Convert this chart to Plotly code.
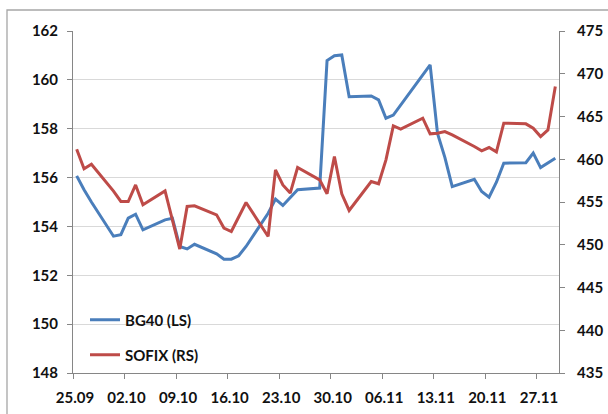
import plotly.graph_objects as go

# Trading days (dd.mm.2013)
dates = [
    "2013-09-25", "2013-09-26", "2013-09-27", "2013-09-30", "2013-10-01",
    "2013-10-02", "2013-10-03", "2013-10-04", "2013-10-07", "2013-10-08",
    "2013-10-09", "2013-10-10", "2013-10-11", "2013-10-14", "2013-10-15",
    "2013-10-16", "2013-10-17", "2013-10-18", "2013-10-21", "2013-10-22",
    "2013-10-23", "2013-10-24", "2013-10-25", "2013-10-28", "2013-10-29",
    "2013-10-30", "2013-10-31", "2013-11-01", "2013-11-04", "2013-11-05",
    "2013-11-06", "2013-11-07", "2013-11-08", "2013-11-11", "2013-11-12",
    "2013-11-13", "2013-11-14", "2013-11-15", "2013-11-18", "2013-11-19",
    "2013-11-20", "2013-11-21", "2013-11-22", "2013-11-25", "2013-11-26",
    "2013-11-27", "2013-11-28", "2013-11-29",
]

bg40 = [
    156.07, 155.50, 155.00, 153.60, 153.66,
    154.34, 154.50, 153.86, 154.27, 154.33,
    153.18, 153.08, 153.27, 152.88, 152.66,
    152.66, 152.80, 153.18, 154.54, 155.12,
    154.86, 155.18, 155.50, 155.57, 160.79,
    160.99, 161.02, 159.31, 159.34, 159.18,
    158.43, 158.56, 158.97, 160.19, 160.61,
    157.81, 156.83, 155.63, 155.93, 155.43,
    155.20, 155.81, 156.59, 156.61, 157.00,
    156.41, 156.59, 156.79,
]

sofix = [
    461.18, 458.88, 459.42, 456.27, 455.06,
    455.06, 457.00, 454.67, 456.30, 452.90,
    449.50, 454.48, 454.56, 453.50, 451.95,
    451.55, 453.30, 454.94, 450.97, 458.76,
    457.00, 456.04, 459.03, 457.59, 455.96,
    460.32, 455.96, 454.01, 457.40, 457.13,
    459.93, 463.90, 463.52, 464.80, 462.97,
    463.05, 463.24, 462.85, 461.49, 460.98,
    461.37, 460.86, 464.22, 464.14, 463.63,
    462.65, 463.43, 468.50,
]

left_ticks = [148, 150, 152, 154, 156, 158, 160, 162]
right_ticks = [435, 440, 445, 450, 455, 460, 465, 470, 475]

# each daily value sits in the middle of its day slot on the date axis
x_mid = [d + " 12:00" for d in dates]

W, H = 608, 414
L, R, T, B = 73, 49, 31, 41
pw, ph = W - L - R, H - T - B

BLUE = "#4A7EBB"
RED = "#BE4B48"
AXIS = "#868686"
GRID = "#D9D9D9"
FONT = dict(family="Lato", size=15, color="#111111", weight="bold")

fig = go.Figure()
fig.add_trace(go.Scatter(
    x=x_mid, y=bg40, name="BG40 (LS)", mode="lines",
    line=dict(color=BLUE, width=3), yaxis="y", legend="legend",
))
fig.add_trace(go.Scatter(
    x=x_mid, y=sofix, name="SOFIX (RS)", mode="lines",
    line=dict(color=RED, width=3), yaxis="y2", legend="legend2",
))


def px_x(px):
    return (px - L) / pw


def px_y(py):
    return (H - B - py) / ph


legend_common = dict(
    font=FONT, bgcolor="rgba(0,0,0,0)", borderwidth=0,
    xanchor="left", yanchor="middle", itemwidth=30,
)

fig.update_layout(
    width=W, height=H, autosize=False,
    margin=dict(l=L, r=R, t=T, b=B, pad=0, autoexpand=False),
    paper_bgcolor="white", plot_bgcolor="white",
    showlegend=True,
    legend=dict(x=px_x(85), y=px_y(320), **legend_common),
    legend2=dict(x=px_x(85), y=px_y(355), **legend_common),
    xaxis=dict(
        type="date",
        range=["2013-09-25", "2013-11-30"],
        tick0="2013-09-25", dtick=7 * 24 * 3600 * 1000,
        tickformat="%d.%m",
        ticks="outside", ticklen=5, tickcolor=AXIS, tickwidth=1,
        ticklabelstandoff=6, ticklabelshift=2,
        showline=True, linecolor=AXIS, linewidth=1,
        showgrid=False, zeroline=False, automargin=False,
        tickfont=FONT,
    ),
    yaxis=dict(
        range=[148, 162], tickvals=left_ticks,
        ticks="outside", ticklen=5, tickcolor=AXIS, tickwidth=1,
        ticklabelstandoff=6,
        showline=True, linecolor=AXIS, linewidth=1,
        showgrid=True, gridcolor=GRID, gridwidth=1,
        zeroline=False, automargin=False, tickfont=FONT,
    ),
    yaxis2=dict(
        range=[435, 475], tickvals=right_ticks,
        overlaying="y", side="right",
        ticks="outside", ticklen=5, tickcolor=AXIS, tickwidth=1,
        ticklabelstandoff=9,
        showline=True, linecolor=AXIS, linewidth=1,
        showgrid=False, zeroline=False, automargin=False, tickfont=FONT,
    ),
    shapes=[
        # chart-area border (runs past the right and bottom edges)
        dict(
            type="rect", xref="paper", yref="paper", layer="below",
            x0=px_x(7), x1=px_x(W + 20), y0=px_y(H + 20), y1=px_y(10),
            line=dict(color="#A6A6A6", width=1.3), fillcolor="rgba(0,0,0,0)",
        ),
    ],
)

fig.write_html("out.html")
